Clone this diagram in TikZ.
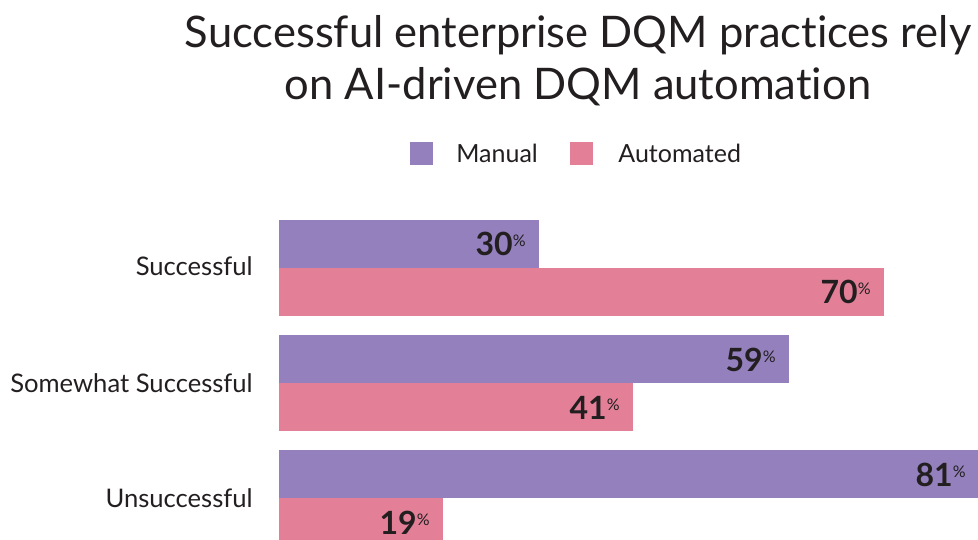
\documentclass[tikz,border=0pt]{standalone}
\usepackage{fontspec}
\setmainfont{Lato}[Ligatures=NoCommon]
\definecolor{manualcol}{RGB}{147,128,188}
\definecolor{autocol}{RGB}{227,128,152}
\definecolor{inkcol}{RGB}{35,31,32}
\newcommand{\pctval}[1]{{\fontsize{32}{32}\selectfont\bfseries #1}\raisebox{9pt}{\fontsize{16}{16}\selectfont\%}}
\tikzset{every picture/.style={line width=0.75pt}}
\tikzset{
  titletext/.style={inner sep=0pt, anchor=base, text=inkcol, font=\fontsize{43.5}{43.5}\selectfont},
  legtext/.style={inner sep=0pt, anchor=base west, text=inkcol, font=\fontsize{25}{25}\selectfont},
  cattext/.style={inner sep=0pt, anchor=base east, text=inkcol, font=\fontsize{25.6}{25.6}\selectfont},
  valtext/.style={inner sep=0pt, anchor=base east, text=inkcol},
}

\begin{document}
\begin{tikzpicture}[x=1pt,y=1pt,yscale=-1,xscale=1]
\useasboundingbox (0,0) rectangle (978,540);
\clip (0,0) rectangle (978,540);

% Title
\node[titletext] (title1) at (578,48) {Successful enterprise DQM practices rely};
\node[titletext] (title2) at (578,100) {on AI-driven DQM automation};

% Legend
\fill[manualcol] (410,142) rectangle (433,165);
\node[legtext] (legman) at (456,163) {Manual};
\fill[autocol] (570,142) rectangle (593,165);
\node[legtext] (legauto) at (618,163) {Automated};

% Bars: Successful
\fill[manualcol] (279,220) rectangle (539,268);
\fill[autocol] (279,268) rectangle (884,316);
% Bars: Somewhat Successful
\fill[manualcol] (279,335) rectangle (789,383);
\fill[autocol] (279,383) rectangle (633,431);
% Bars: Unsuccessful
\fill[manualcol] (279,450) rectangle (979,498);
\fill[autocol] (279,498) rectangle (443,546);

% Category labels
\node[cattext] (catsucc) at (253,276) {Successful};
\node[cattext] (catsome) at (253,392) {Somewhat Successful};
\node[cattext] (catunsu) at (253,507) {Unsuccessful};

% Value labels
\node[valtext] (v30) at (526,256) {\pctval{30}};
\node[valtext] (v70) at (871,304) {\pctval{70}};
\node[valtext] (v59) at (776,371) {\pctval{59}};
\node[valtext] (v41) at (620,419) {\pctval{41}};
\node[valtext] (v81) at (966,486) {\pctval{81}};
\node[valtext] (v19) at (430,534) {\pctval{19}};

\end{tikzpicture}
\end{document}
